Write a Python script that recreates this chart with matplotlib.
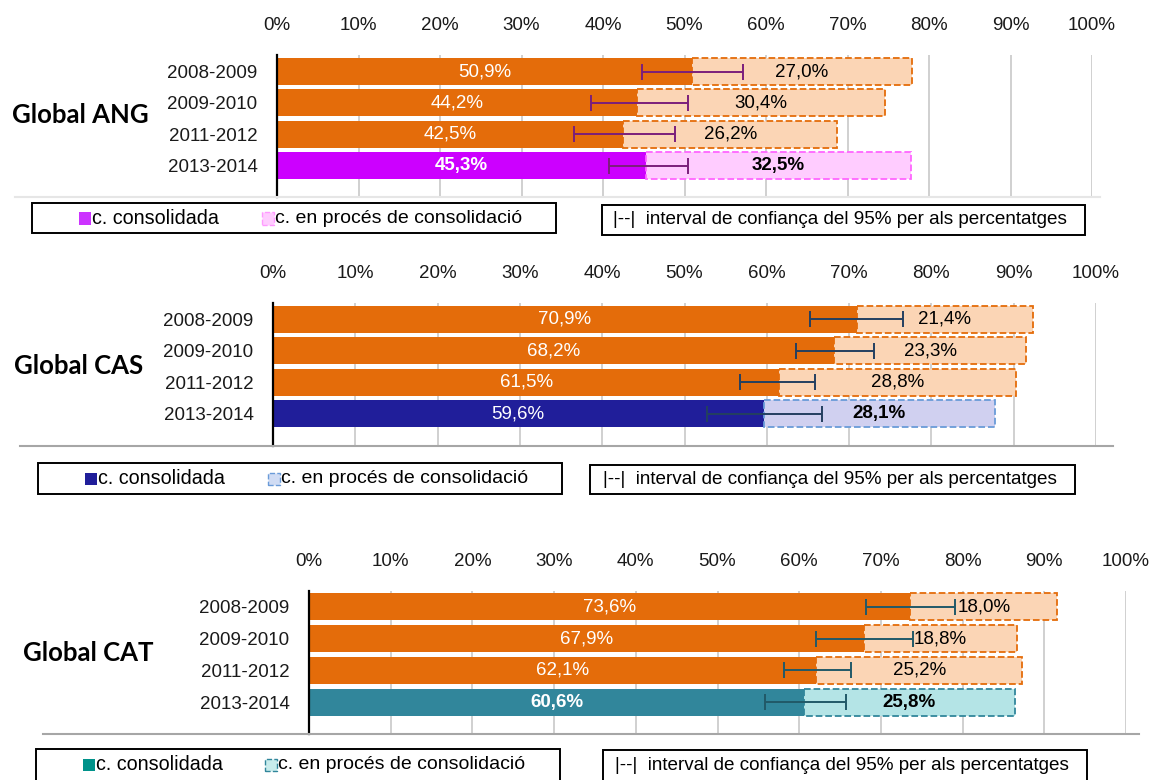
import matplotlib.pyplot as plt
from matplotlib.patches import Rectangle
from matplotlib.lines import Line2D

# data (percentages)
years = ['2008-2009', '2009-2010', '2011-2012', '2013-2014']

ang_cons = [50.9, 44.2, 42.5, 45.3]
ang_proc = [27.0, 30.4, 26.2, 32.5]
ang_ci_low = [44.8, 38.5, 36.5, 40.7]
ang_ci_high = [57.2, 50.4, 48.8, 50.4]

cas_cons = [70.9, 68.2, 61.5, 59.6]
cas_proc = [21.4, 23.3, 28.8, 28.1]
cas_ci_low = [65.3, 63.5, 56.8, 52.7]
cas_ci_high = [76.5, 73.0, 65.9, 66.7]

cat_cons = [73.6, 67.9, 62.1, 60.6]
cat_proc = [18.0, 18.8, 25.2, 25.8]
cat_ci_low = [68.2, 62.1, 58.1, 55.8]
cat_ci_high = [79.1, 73.9, 66.3, 65.7]

x_ticks = list(range(0, 101, 10))

W, H = 1151, 780
ORANGE = '#E46C0A'
ORANGE_LIGHT = '#FBD5B5'
FONT = 'Liberation Sans'
FS = 13.5

plt.rcParams['font.family'] = [FONT, 'DejaVu Sans']

fig = plt.figure(figsize=(W / 100, H / 100), dpi=100)


def fx(x):
    return x / W


def fy(y):
    return 1 - y / H


def pct(v):
    return f'{v:.1f}'.replace('.', ',') + '%'


def draw_panel(box, ylim, cons, proc, lo, hi, hl, hl_light, hl_edge, err_col, cons_bold):
    x0, y0, x1, y1 = box
    ax = fig.add_axes([fx(x0), fy(y1), (x1 - x0) / W, (y1 - y0) / H])
    ypos = list(range(len(years)))
    cons_cols = [ORANGE] * 3 + [hl]
    proc_cols = [ORANGE_LIGHT] * 3 + [hl_light]
    proc_edges = [ORANGE] * 3 + [hl_edge]
    ax.barh(ypos, cons, height=0.86, color=cons_cols, zorder=2)
    ax.barh(ypos, proc, left=cons, height=0.86, color=proc_cols,
            edgecolor=proc_edges, linestyle='--', linewidth=1.3, zorder=2)
    for i in ypos:
        mid = (lo[i] + hi[i]) / 2
        ax.errorbar(mid, i, xerr=[[mid - lo[i]], [hi[i] - mid]], fmt='none',
                    ecolor=err_col, elinewidth=1.4, capsize=6, capthick=1.4, zorder=3)
        last = i == len(years) - 1
        ax.text(cons[i] / 2, i, pct(cons[i]), color='white', ha='center', va='center',
                fontsize=FS, fontweight='bold' if (last and cons_bold) else 'normal', zorder=4)
        ax.text(cons[i] + proc[i] / 2, i, pct(proc[i]), color='black', ha='center',
                va='center', fontsize=FS, fontweight='bold' if last else 'normal', zorder=4)
    ax.set_xlim(0, 100)
    ax.set_ylim(*ylim)
    ax.set_yticks(ypos)
    ax.set_yticklabels(years)
    ax.set_xticks(x_ticks)
    ax.set_xticklabels([f'{t}%' for t in x_ticks])
    ax.xaxis.tick_top()
    ax.tick_params(axis='x', length=0, pad=15, labelsize=FS, labelcolor='#1a1a1a')
    ax.tick_params(axis='y', length=0, pad=14, labelsize=FS, labelcolor='#1a1a1a')
    ax.grid(axis='x', color='#C8C8C8', linewidth=1.2, zorder=0)
    ax.set_axisbelow(True)
    for s in ['top', 'right', 'bottom']:
        ax.spines[s].set_visible(False)
    ax.spines['left'].set_color('black')
    ax.spines['left'].set_linewidth(1.6)
    return ax


def draw_legend(box1, sw1, sw2, box2, txt2_x, sw_col, light, light_edge):
    bx0, by0, bx1, by1 = box1
    cy = by0 + 15.5
    fig.add_artist(Rectangle((fx(bx0), fy(by1)), (bx1 - bx0) / W, (by1 - by0) / H,
                             transform=fig.transFigure, fill=False, ec='black', lw=1.4))
    s = 12
    fig.add_artist(Rectangle((fx(sw1), fy(cy + s / 2)), s / W, s / H,
                             transform=fig.transFigure, fc=sw_col, ec='none'))
    fig.text(fx(sw1 + s + 1), fy(cy), 'c. consolidada', fontsize=14.2, va='center', ha='left')
    fig.add_artist(Rectangle((fx(sw2), fy(cy + s / 2)), s / W, s / H,
                             transform=fig.transFigure, fc=light, ec=light_edge,
                             ls='--', lw=1))
    fig.text(fx(sw2 + s + 1), fy(cy), 'c. en procés de consolidació', fontsize=14,
             va='center', ha='left')
    cx0, cy0, cx1, cy1 = box2
    fig.add_artist(Rectangle((fx(cx0), fy(cy1)), (cx1 - cx0) / W, (cy1 - cy0) / H,
                             transform=fig.transFigure, fill=False, ec='black', lw=1.4))
    fig.text(fx(txt2_x), fy(cy0 + 15),
             '|--|  interval de confiança del 95% per als percentatges',
             fontsize=13.6, va='center', ha='left')


def base_line(xa, xb, y, col):
    fig.add_artist(Line2D([fx(xa), fx(xb)], [fy(y), fy(y)], transform=fig.transFigure,
                          color=col, lw=1.5))


# panel 1: Global ANG
base_line(15, 1100, 197, '#E6E6E6')
draw_panel((277, 55, 1092, 197), (4.0, -0.53), ang_cons, ang_proc, ang_ci_low, ang_ci_high,
           '#CC00FF', '#FFCCFF', '#FF66FF', '#7B1F7B', True)
fig.text(fx(12), fy(115), 'Global ANG', fontsize=18.5, fontweight='bold',
         family=['Lato', 'DejaVu Sans'], va='center', ha='left')
draw_legend((32, 203, 556, 233), 79, 262, (602, 205, 1085, 235), 613,
            '#CC33FF', '#FFCCFF', '#FF99FF')

# panel 2: Global CAS
base_line(20, 1113, 446, '#A6A6A6')
draw_panel((273, 303, 1096, 446), (4.03, -0.51), cas_cons, cas_proc, cas_ci_low, cas_ci_high,
           '#201E9A', '#D0D0F0', '#6A9BD8', '#243F60', False)
fig.text(fx(14), fy(366), 'Global CAS', fontsize=18.5, fontweight='bold',
         family=['Lato', 'DejaVu Sans'], va='center', ha='left')
draw_legend((38, 463, 562, 494), 85, 268, (590, 465, 1075, 494), 603,
            '#201E9A', '#D0DCF4', '#6A9BD8')

# panel 3: Global CAT
base_line(43, 1139, 734, '#A6A6A6')
draw_panel((309, 591, 1126, 734), (3.99, -0.49), cat_cons, cat_proc, cat_ci_low, cat_ci_high,
           '#31869B', '#B4E4E6', '#31869B', '#215968', True)
fig.text(fx(23), fy(653), 'Global CAT', fontsize=18.5, fontweight='bold',
         family=['Lato', 'DejaVu Sans'], va='center', ha='left')
draw_legend((36, 749, 560, 795), 83, 265, (603, 750, 1087, 795), 615,
            '#00928A', '#C8ECEC', '#31869B')

fig.savefig('out.png', dpi=100)
plt.close(fig)
